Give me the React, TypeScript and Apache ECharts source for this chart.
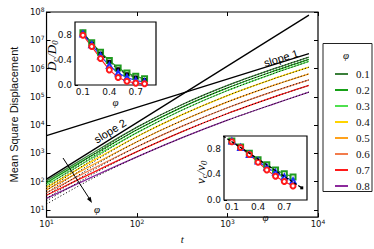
import React, { useEffect, useRef } from 'react';
import * as echarts from 'echarts';

// ---- main plot data ----
const tVals = [10, 31.6, 100, 316, 1000, 3160, 7940];
const phiNames = ['0.1', '0.2', '0.3', '0.4', '0.5', '0.6', '0.7', '0.8'];
const phiColors = ['#3a7f3a', '#17a017', '#4fe04f', '#ffd400', '#ffa21c', '#f27c4c', '#ff1a1a', '#8c2a9c'];

const msd01 = [107, 989, 8470, 53500, 253000, 951000, 2550000];
const msd02 = [91.2, 832, 6890, 43500, 208000, 791000, 2120000];
const msd03 = [77.6, 676, 5420, 34200, 167500, 652000, 1780000];
const msd04 = [63.1, 525, 3950, 23600, 111400, 424000, 1114000];
const msd05 = [51.3, 380, 2590, 14550, 66500, 250000, 652000];
const msd06 = [40.7, 275, 1718, 9230, 41200, 153000, 399000];
const msd07 = [33.1, 202, 1151, 5900, 25800, 95700, 254000];
const msd08 = [25.7, 145, 752, 3600, 15000, 54500, 147000];

const th01 = [67.6, 861, 8470, 53500, 253000, 951000, 2550000];
const th02 = [57.5, 724, 6890, 43500, 208000, 791000, 2120000];
const th03 = [49.0, 589, 5420, 34200, 167500, 652000, 1780000];
const th04 = [39.8, 457, 3950, 23600, 111400, 424000, 1114000];
const th05 = [32.4, 331, 2590, 14550, 66500, 250000, 652000];
const th06 = [25.7, 240, 1718, 9230, 41200, 153000, 399000];
const th07 = [20.9, 176, 1151, 5900, 25800, 95700, 254000];
const th08 = [16.2, 126, 752, 3600, 15000, 54500, 147000];

const slopeT = [10, 7940];
const slopeOneVals = [4270, 3390000];
const slopeTwoVals = [123, 77500000];

const xTicks = [10, 100, 1000, 10000];
const yTicks = [10, 100, 1000, 10000, 100000, 1000000, 10000000, 100000000];

// ---- inset data ----
const phiVals = [0.1, 0.2, 0.3, 0.4, 0.5, 0.6, 0.7, 0.8];
const dcGreen = [0.83, 0.67, 0.52, 0.39, 0.27, 0.19, 0.14, 0.1];
const dcBlack = [0.82, 0.66, 0.5, 0.37, 0.25, 0.17, 0.12, 0.08];
const dcBlue = [0.81, 0.64, 0.46, 0.31, 0.19, 0.12, 0.07, 0.05];
const dcRed = [0.79, 0.61, 0.42, 0.24, 0.12, 0.06, 0.03, 0.02];
const vcGreen = [0.92, 0.83, 0.73, 0.63, 0.55, 0.47, 0.41, 0.36];
const vcBlue = [0.92, 0.82, 0.71, 0.61, 0.51, 0.43, 0.36, 0.3];
const vcRed = [0.91, 0.82, 0.71, 0.59, 0.47, 0.37, 0.29, 0.22];
const vcTheoryPhi = [0.0, 0.9];
const vcTheory = [1.0, 0.19];
const insetXTicks = [0.1, 0.4, 0.7];
const insetYTicks = [0.0, 0.4, 0.8];

const msdAll = [msd01, msd02, msd03, msd04, msd05, msd06, msd07, msd08];
const thAll = [th01, th02, th03, th04, th05, th06, th07, th08];

const serif = 'Liberation Serif';
const sans = 'DejaVu Sans';

const logLabel = (v: number) => `{b|10}{s|${Math.round(Math.log10(v))}}`;
const logRich = {
  b: { fontSize: 8.5, fontFamily: sans, color: '#111', lineHeight: 11 },
  s: { fontSize: 6, fontFamily: sans, color: '#111', verticalAlign: 'top', lineHeight: 7 },
};
const fracRich = {
  a: { fontFamily: serif, fontStyle: 'italic', fontSize: 13, lineHeight: 16, color: '#111' },
  b: { fontFamily: serif, fontStyle: 'italic', fontSize: 8.5, lineHeight: 10, verticalAlign: 'bottom', color: '#111' },
};

const zipPts = (xs: number[], ys: number[]) => xs.map((x, i) => [x, ys[i]]);

export default function App() {
  const ref = useRef<HTMLDivElement>(null);
  useEffect(() => {
    if (!ref.current) return;
    const chart = echarts.init(ref.current, undefined, { renderer: 'svg' });

    const series: any[] = [];
    msdAll.forEach((arr, i) => {
      series.push({
        name: phiNames[i], type: 'line', xAxisIndex: 0, yAxisIndex: 0,
        data: zipPts(tVals, arr), symbol: 'none', smooth: 0.3, silent: true,
        lineStyle: { color: phiColors[i], width: 1.3 }, itemStyle: { color: phiColors[i] }, z: 3,
      });
    });
    thAll.forEach((arr, i) => {
      series.push({
        name: 'theory ' + phiNames[i], type: 'line', xAxisIndex: 0, yAxisIndex: 0,
        data: zipPts(tVals, arr), symbol: 'none', smooth: 0.3, silent: true,
        lineStyle: { color: '#000', width: 0.9, type: [1.2, 2] }, z: 4,
      });
    });
    series.push({
      name: 'slope 1', type: 'line', xAxisIndex: 0, yAxisIndex: 0, data: zipPts(slopeT, slopeOneVals),
      symbol: 'none', silent: true, lineStyle: { color: '#000', width: 1.3 }, z: 5,
    });
    series.push({
      name: 'slope 2', type: 'line', xAxisIndex: 0, yAxisIndex: 0, data: zipPts(slopeT, slopeTwoVals),
      symbol: 'none', silent: true, lineStyle: { color: '#000', width: 1.3 }, z: 5,
    });

    const insetSeries = (xi: number, yi: number, data: number[], color: string, symbol: string, size: number, dashed = false) => ({
      type: 'line', xAxisIndex: xi, yAxisIndex: yi, data: zipPts(phiVals, data), symbol, symbolSize: size,
      silent: true, lineStyle: { color, width: 1.1, type: dashed ? [3, 2] : 'solid' },
      itemStyle: { color, borderColor: color, borderWidth: 1 }, z: 6,
    });
    // inset 1
    series.push(insetSeries(2, 2, dcGreen, '#1f9a1f', 'emptyRect', 5));
    series.push(insetSeries(2, 2, dcBlack, '#000', 'rect', 3, true));
    series.push(insetSeries(2, 2, dcBlue, '#1a30ff', 'emptyTriangle', 5));
    series.push(insetSeries(2, 2, dcRed, '#ff1a1a', 'emptyCircle', 5));
    // inset 2
    series.push(insetSeries(3, 3, vcGreen, '#1f9a1f', 'emptyRect', 5));
    series.push(insetSeries(3, 3, vcBlue, '#1a30ff', 'emptyTriangle', 5));
    series.push(insetSeries(3, 3, vcRed, '#ff1a1a', 'emptyCircle', 5));
    series.push({
      type: 'line', xAxisIndex: 3, yAxisIndex: 3, data: zipPts(vcTheoryPhi, vcTheory), symbol: 'rect', symbolSize: 3,
      silent: true, lineStyle: { color: '#000', width: 1.3, type: [3, 2] }, itemStyle: { color: '#000' }, z: 7,
    });

    const insetX = (grid: number, max: number, gap: number) => ({
      gridIndex: grid, type: 'value', min: 0.01, max,
      axisLine: { show: false }, splitLine: { show: false },
      axisTick: { inside: true, length: 3, customValues: insetXTicks, lineStyle: { color: '#000' } },
      axisLabel: { customValues: insetXTicks, formatter: (v: number) => v.toFixed(1), fontSize: 9, fontFamily: sans, color: '#111', margin: 2 },
      name: 'φ', nameLocation: 'middle', nameGap: gap,
      nameTextStyle: { fontFamily: serif, fontStyle: 'italic', fontSize: 11, color: '#111' },
    });
    const insetY = (grid: number) => ({
      gridIndex: grid, type: 'value', min: 0, max: 1.0,
      axisLine: { show: false }, splitLine: { show: false },
      axisTick: { inside: true, length: 3, customValues: insetYTicks, lineStyle: { color: '#000' } },
      axisLabel: { customValues: insetYTicks, formatter: (v: number) => v.toFixed(1), fontSize: 9, fontFamily: sans, color: '#111', margin: 3 },
    });

    chart.setOption({
      animation: false,
      backgroundColor: '#fff',
      grid: [
        { left: 37, top: 12, width: 281, height: 212, show: true, borderColor: '#000', borderWidth: 1.2, backgroundColor: 'transparent' },
        { left: 75, top: 22, width: 81, height: 63, show: true, borderColor: '#000', borderWidth: 1.2, backgroundColor: '#fff', z: 5 },
        { left: 224, top: 136, width: 83, height: 64, show: true, borderColor: '#000', borderWidth: 1.2, backgroundColor: '#fff', z: 5 },
      ],
      xAxis: [
        {
          gridIndex: 0, type: 'log', logBase: 10, min: 10, max: 10000, position: 'bottom',
          axisLine: { show: false }, splitLine: { show: false }, minorTick: { show: false },
          axisTick: { inside: true, length: 4, customValues: xTicks, lineStyle: { color: '#000' } },
          axisLabel: { customValues: xTicks, formatter: logLabel, rich: logRich, margin: 1 },
          name: 't', nameLocation: 'middle', nameGap: 11,
          nameTextStyle: { fontFamily: serif, fontStyle: 'italic', fontSize: 11, color: '#111' },
        },
        {
          gridIndex: 0, type: 'log', logBase: 10, min: 10, max: 10000, position: 'top',
          axisLine: { show: false }, splitLine: { show: false },
          axisTick: { inside: true, length: 4, customValues: xTicks, lineStyle: { color: '#000' } },
          axisLabel: { show: false },
        },
        insetX(1, 0.93, 9),
        insetX(2, 0.96, 10),
      ],
      yAxis: [
        {
          gridIndex: 0, type: 'log', logBase: 10, min: 5.6, max: 100000000, position: 'left',
          axisLine: { show: false }, splitLine: { show: false },
          axisTick: { inside: true, length: 4, customValues: yTicks, lineStyle: { color: '#000' } },
          axisLabel: { customValues: yTicks, formatter: logLabel, rich: logRich, margin: 2 },
          name: 'Mean Square Displacement', nameLocation: 'middle', nameGap: 19,
          nameTextStyle: { fontFamily: 'Liberation Sans', fontSize: 11, color: '#111' },
        },
        {
          gridIndex: 0, type: 'log', logBase: 10, min: 5.6, max: 100000000, position: 'right',
          axisLine: { show: false }, splitLine: { show: false },
          axisTick: { inside: true, length: 4, customValues: yTicks, lineStyle: { color: '#000' } },
          axisLabel: { show: false },
        },
        insetY(1),
        insetY(2),
      ],
      legend: {
        data: phiNames.map((n) => ({ name: n, icon: 'rect' })),
        orient: 'vertical', left: 330, top: 62, itemWidth: 13, itemHeight: 2, itemGap: 2,
        selectedMode: false,
        textStyle: { fontFamily: serif, fontSize: 11, lineHeight: 14, color: '#111', padding: [0, 0, 0, 3] },
      },
      graphic: [
        { type: 'rect', shape: { x: 323, y: 43.5, width: 49, height: 148 }, style: { fill: 'none', stroke: '#222', lineWidth: 1 }, z: 10 },
        { type: 'text', x: 346, y: 55, style: { text: 'φ', fontFamily: serif, fontStyle: 'italic', fontSize: 11, fill: '#111', align: 'center', verticalAlign: 'middle' }, z: 10 },
        { type: 'text', x: 110, y: 131, rotation: (31.8 * Math.PI) / 180, style: { text: 'slope 2', fontFamily: 'Liberation Sans', fontSize: 11, fill: '#000', align: 'center', verticalAlign: 'middle' }, z: 10 },
        { type: 'text', x: 281, y: 58, rotation: (17 * Math.PI) / 180, style: { text: 'slope 1', fontFamily: 'Liberation Sans', fontSize: 11, fill: '#000', align: 'center', verticalAlign: 'middle' }, z: 10 },
        { type: 'line', shape: { x1: 63, y1: 158, x2: 89, y2: 198 }, style: { stroke: '#000', lineWidth: 1 }, z: 10 },
        { type: 'polygon', shape: { points: [[92, 203], [86.9, 199.1], [90.6, 196.8]] }, style: { fill: '#000' }, z: 10 },
        { type: 'text', x: 97, y: 209, style: { text: 'φ', fontFamily: serif, fontStyle: 'italic', fontSize: 11, fill: '#000', align: 'center', verticalAlign: 'middle' }, z: 10 },
        { type: 'text', x: 51, y: 71, rotation: Math.PI / 2, style: { text: '{a|D}{b|c}{a|/D}{b|0}', rich: fracRich, align: 'left', verticalAlign: 'middle' }, z: 10 },
        { type: 'text', x: 200, y: 184, rotation: Math.PI / 2, style: { text: '{a|v}{b|c}{a|/v}{b|0}', rich: fracRich, align: 'left', verticalAlign: 'middle' }, z: 10 },
      ],
      series,
    });
    return () => chart.dispose();
  }, []);
  return <div ref={ref} style={{ position: 'fixed', left: 0, top: 0, width: 374, height: 249 }} />;
}
